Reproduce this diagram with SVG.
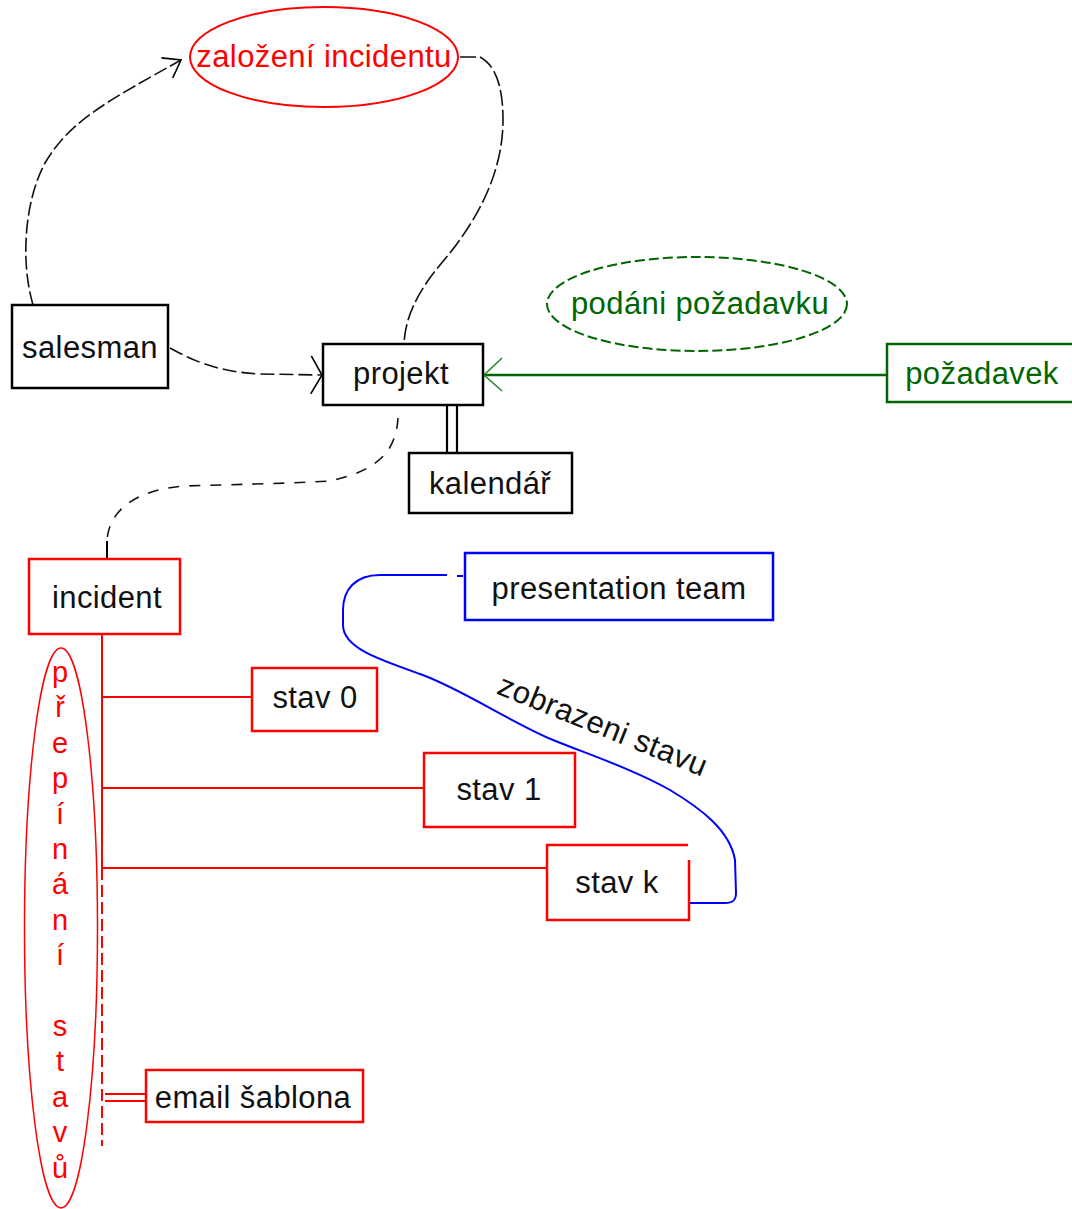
<svg xmlns="http://www.w3.org/2000/svg" width="1072" height="1209" viewBox="0 0 1072 1209">
<style>
.t{font-family:"Liberation Sans",Arial,sans-serif;font-size:31px;letter-spacing:0.4px;fill:#111;text-anchor:middle}
.box{fill:#fff;stroke-width:2.5}
.k{stroke:#000}.r{stroke:#f00}.g{stroke:#060}.b{stroke:#00f}
</style>
<defs>
<marker id="ak1" markerUnits="userSpaceOnUse" viewBox="-25 -25 50 50" markerWidth="50" markerHeight="50" refX="0" refY="0" orient="auto"><path d="M-16,-11.5 L0,0 L-16,11.5" fill="none" stroke="#000" stroke-width="1.6"/></marker>
<marker id="ak2" markerUnits="userSpaceOnUse" viewBox="-25 -25 50 50" markerWidth="50" markerHeight="50" refX="0" refY="0" orient="auto"><path d="M-11,-19 L0,0 L-11,19" fill="none" stroke="#000" stroke-width="1.6"/></marker>
<marker id="ag" markerUnits="userSpaceOnUse" viewBox="-25 -25 50 50" markerWidth="50" markerHeight="50" refX="0" refY="0" orient="auto"><path d="M-18,-16 L0,0 L-18,17" fill="none" stroke="#2a8a2a" stroke-width="1.6"/></marker>
</defs>
<rect width="1072" height="1209" fill="#fff"/>

<g id="connectors" fill="none">
  <path d="M33,305 C20,260 25,200 45,163 C70,120 110,100 181,60" stroke="#111" stroke-width="1.6" stroke-dasharray="14,4" marker-end="url(#ak1)"/>
  <path d="M460,57 L480,57 C495,65 503,85 503,120 C503,180 470,230 440,265 C415,295 405,320 404,344" stroke="#111" stroke-width="1.6" stroke-dasharray="16,4"/>
  <path d="M170,348 C195,362 220,372 260,374 L322,375" stroke="#111" stroke-width="1.6" stroke-dasharray="14,5" marker-end="url(#ak2)"/>
  <path d="M398,418 C396,450 380,470 330,481 L290,483 L185,486 C130,490 107,515 107,543" stroke="#111" stroke-width="1.6" stroke-dasharray="11,10"/>
  <path d="M107,541 L107,558" stroke="#000" stroke-width="2"/>
  <path d="M887,375 L484,375" stroke="#060" stroke-width="2.5" marker-end="url(#ag)"/>
  <path d="M447,405 V453 M457,405 V453" stroke="#000" stroke-width="2.2"/>
  <path d="M102,634 V868 M102,697 H252 M102,788 H424 M102,868 H547" stroke="#f00" stroke-width="2"/>
  <path d="M102,868 V1146" stroke="#f00" stroke-width="2" stroke-dasharray="12,5"/>
  <path d="M105,1094 H146 M105,1101 H146" stroke="#f00" stroke-width="2"/>
  <path d="M463,576 L457,576" stroke="#00f" stroke-width="2"/>
  <path d="M447,575 L380,575 C355,575 343,590 343,610 L343,625 C343,648 380,660 420,674 C460,688 510,722 553,740 C590,755 635,770 670,790 C700,808 730,830 735,860 L736,893 C736,900 733,903 725,903 L690,903" stroke="#00f" stroke-width="2"/>
  <text class="t" transform="translate(599,735) rotate(22)">zobrazeni stavu</text>
</g>

<g id="zalozeni">
  <ellipse cx="324" cy="57" rx="134" ry="50" fill="none" stroke="#f00" stroke-width="2"/>
  <text class="t" x="324" y="67" style="fill:#f00">založení incidentu</text>
</g>
<g id="podani">
  <ellipse cx="697" cy="304" rx="150" ry="47" fill="none" stroke="#060" stroke-width="2" stroke-dasharray="10,4"/>
  <text class="t" x="700" y="314" style="fill:#060">podáni požadavku</text>
</g>
<g id="salesman">
  <rect class="box k" x="12" y="305" width="156" height="83"/>
  <text class="t" x="90" y="358">salesman</text>
</g>
<g id="projekt">
  <rect class="box k" x="323" y="344" width="160" height="61"/>
  <text class="t" x="401" y="384">projekt</text>
</g>
<g id="kalendar">
  <rect class="box k" x="409" y="453" width="163" height="60"/>
  <text class="t" x="490" y="494">kalendář</text>
</g>
<g id="pozadavek">
  <rect class="box g" x="887" y="344" width="190" height="58"/>
  <text class="t" x="982" y="384" style="fill:#060">požadavek</text>
</g>
<g id="incident">
  <rect class="box r" x="29" y="559" width="151" height="75"/>
  <text class="t" x="107" y="608">incident</text>
</g>
<g id="prepinani">
  <ellipse cx="61" cy="928" rx="36.5" ry="280" fill="none" stroke="#f00" stroke-width="1.5"/>
  <text class="t" x="60" y="682" style="fill:#f00;font-size:29px;letter-spacing:0"><tspan x="60" y="682">p</tspan><tspan x="60" dy="35.4">ř</tspan><tspan x="60" dy="35.4">e</tspan><tspan x="60" dy="35.4">p</tspan><tspan x="60" dy="35.4">í</tspan><tspan x="60" dy="35.4">n</tspan><tspan x="60" dy="35.4">á</tspan><tspan x="60" dy="35.4">n</tspan><tspan x="60" dy="35.4">í</tspan><tspan x="60" dy="70.8">s</tspan><tspan x="60" dy="35.4">t</tspan><tspan x="60" dy="35.4">a</tspan><tspan x="60" dy="35.4">v</tspan><tspan x="60" dy="35.4">ů</tspan></text>
</g>
<g id="stav0">
  <rect class="box r" x="252" y="668" width="125" height="63"/>
  <text class="t" x="315" y="708">stav 0</text>
</g>
<g id="stav1">
  <rect class="box r" x="424" y="753" width="151" height="74"/>
  <text class="t" x="499" y="800">stav 1</text>
</g>
<g id="stavk">
  <path class="box r" d="M688,845 H547 V920 H689 V860"/>
  <text class="t" x="617" y="893">stav k</text>
</g>
<g id="presentation">
  <rect class="box b" x="465" y="553" width="308" height="67"/>
  <text class="t" x="619" y="599">presentation team</text>
</g>
<g id="email">
  <rect class="box r" x="146" y="1070" width="217" height="52"/>
  <text class="t" x="253" y="1108">email šablona</text>
</g>
</svg>
